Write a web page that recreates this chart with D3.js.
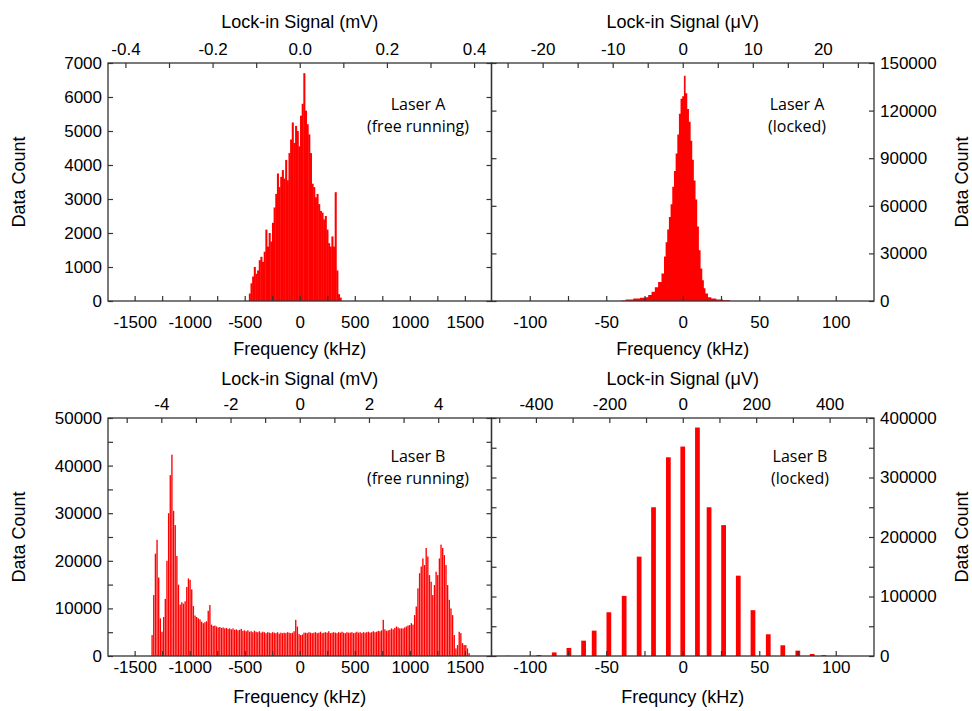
<!DOCTYPE html>
<html>
<head>
<meta charset="utf-8">
<script src="https://cdn.jsdelivr.net/npm/d3@7"></script>
<style>
  body { margin: 0; background: #fff; }
  svg text { font-family: 'Liberation Sans', Arial, sans-serif; fill: #000; }
  .note { font-family: 'Open Sans', 'Noto Sans', sans-serif; font-size: 16px; }
</style>
</head>
<body>
<div id="chart"></div>
<script>
// ---- data (counts in thousands) ----

// Laser A free running: 15 kHz bins, first bin centre at -455 kHz
const aFreeStart = -455;
const aFreeBin = 15;
const aFreeCounts = [0.22, 0.52, 0.72, 1.0, 0.8, 0.9, 1.2, 1.3, 1.15, 1.45,
  2.1, 1.6, 2.0, 1.75, 2.3, 2.75, 3.15, 3.75, 3.35, 3.65,
  3.85, 3.6, 4.15, 3.55, 4.35, 4.75, 5.25, 4.65, 5.15, 5.0,
  4.55, 5.45, 5.8, 6.7, 5.6, 5.2, 4.9, 4.35, 3.45, 3.35,
  3.05, 3.15, 2.85, 2.65, 2.6, 2.4, 2.5, 2.1, 1.7, 1.6,
  1.9, 1.6, 3.2, 0.9, 0.2, 0.1];

// Laser A locked: frequency (kHz) and count
const aLockedFreq = [-40, -34.6, -30, -25.9, -23.7, -21.5, -19.3, -17.2, -15, -12.8,
  -11.7, -10.7, -9.6, -8.5, -7.4, -6.3, -5.2, -4.1, -3.0, -2.0,
  -0.9, 0.2, 1.3, 2.4, 3.5, 4.6, 5.7, 6.7, 7.8, 8.9,
  10.0, 11.1, 12.2, 13.3, 14.3, 15.4, 17.6, 19.8, 24.1, 28.5, 33];
const aLockedCounts = [0.3, 1.0, 1.5, 2.0, 2.3, 3.8, 5.9, 8.6, 12, 17.4,
  28, 37, 45, 53, 61, 72, 82, 93, 105, 118,
  127.5, 129, 142, 131, 121, 113, 101, 89, 76, 64,
  47, 32, 20.5, 13, 8, 4.8, 2.3, 1.5, 1.0, 0.5, 0];

// Laser B free running: 15 kHz bins, first bin centre at -1340 kHz
const bFreeStart = -1340;
const bFreeBin = 15;
const bFreeCounts = [4.4, 12.8, 21.5, 24.4, 16.5, 7.9, 5.1, 8.2, 12.0, 20.0,
  30.0, 38.0, 42.3, 30.5, 27.5, 21.0, 15.0, 10.8, 11.3, 11.0,
  11.5, 14.5, 16.3, 16.0, 14.0, 10.5, 8.5, 8.2, 7.9, 7.7,
  7.2, 6.9, 7.1, 7.3, 9.5, 10.7, 6.6, 6.3, 6.4, 6.2,
  6.0, 6.1, 5.9, 6.0, 5.8, 5.9, 5.7, 5.8, 5.6, 5.8,
  5.5, 5.6, 5.4, 5.5, 5.7, 5.3, 5.4, 5.2, 5.4, 5.1,
  5.2, 5.0, 5.3, 5.1, 5.0, 5.2, 4.9, 5.1, 5.0, 4.8,
  5.0, 4.9, 4.8, 5.0, 4.9, 4.8, 5.0, 4.7, 4.9, 4.8,
  4.9, 4.8, 5.0, 4.9, 4.8, 4.9, 5.2, 7.6, 6.2, 4.6,
  4.4, 4.5, 4.9, 4.9, 4.8, 5.0, 4.9, 4.8, 4.9, 5.0,
  4.8, 4.9, 5.1, 4.8, 4.9, 5.0, 4.9, 5.2, 4.8, 4.9,
  5.0, 4.9, 4.8, 5.0, 4.9, 5.1, 4.9, 4.8, 5.0, 4.9,
  4.9, 5.0, 4.8, 4.9, 5.1, 4.9, 5.0, 4.8, 5.0, 4.9,
  5.0, 5.1, 4.9, 5.0, 5.2, 5.0, 5.1, 5.3, 5.2, 5.4,
  7.6, 5.6, 5.3, 5.4, 5.5, 5.8, 5.6, 5.9, 6.2, 6.0,
  5.8, 5.8, 5.8, 6.0, 6.2, 6.4, 6.5, 6.9, 6.6, 8.6,
  10.4, 14.2, 17.4, 18.8, 20.5, 19.1, 22.7, 20.9, 17.0, 15.6,
  12.8, 14.9, 17.7, 17.0, 20.5, 23.4, 22.7, 21.2, 19.1, 14.9,
  11.8, 10.0, 8.6, 4.4, 1.6, 2.3, 5.1, 4.8, 2.7, 2.3,
  2.3, 1.6, 0.6];

// Laser B locked: discrete bars
const bLockedFreq = [-114, -94, -84, -74.4, -64.8, -57.9, -48.3, -38.3, -28.5, -19.1,
  -9.4, 0, 9.6, 17.2, 26.7, 36.3, 45.9, 55.9, 65.4, 75.2, 84.6, 92.2, 101.8];
const bLockedCounts = [0.3, 1.7, 6, 13.5, 25.8, 42.6, 73.5, 101, 167, 250,
  334, 352, 384, 250, 220, 135, 77, 36.5, 18, 9, 3.4, 1.5, 0.5];

// tick labels
const freeFreqTicks = [-1500, -1000, -500, 0, 500, 1000, 1500];
const lockedFreqTicks = [-100, -50, 0, 50, 100];
const aFreeSignalTicks = [-0.4, -0.2, 0.0, 0.2, 0.4];
const aLockedSignalTicks = [-20, -10, 0, 10, 20];
const bFreeSignalTicks = [-4, -2, 0, 2, 4];
const bLockedSignalTicks = [-400, -200, 0, 200, 400];
const aFreeCountTicks = [0, 1000, 2000, 3000, 4000, 5000, 6000, 7000];
const aLockedCountTicks = [0, 30000, 60000, 90000, 120000, 150000];
const bFreeCountTicks = [0, 10000, 20000, 30000, 40000, 50000];
const bLockedCountTicks = [0, 100000, 200000, 300000, 400000];

const width = 972;
const height = 711;
const red = '#ff0000';
const frameColor = '#333';

const svg = d3
  .select('#chart')
  .append('svg')
  .attr('width', width)
  .attr('height', height);

// minor tick helper
const steps = (lo, hi, step) => d3.range(Math.round(lo / step), Math.round(hi / step) + 1).map(i => +(i * step).toFixed(6));

function panel(p) {
  const x = d3.scaleLinear().domain(p.freqDomain).range([p.x0, p.x1]);
  const xTop = d3.scaleLinear().domain(p.sigDomain).range([p.x0, p.x1]);
  const y = d3.scaleLinear().domain([0, p.yMax]).range([p.y1, p.y0]);
  const g = svg.append('g');

  p.draw(g, x, y);

  const inLabels = (list, fmt) => d => (list.some(v => Math.abs(v - d) < 1e-9) ? fmt(d) : '');

  // bottom axis, ticks pointing inward
  g.append('g')
    .attr('transform', `translate(0, ${p.y1})`)
    .call(d3.axisBottom(x)
      .tickValues(steps(p.freqDomain[0], p.freqDomain[1], p.freqMinor).filter(v => x(v) > p.x0 + 1 && x(v) < p.x1 - 1))
      .tickFormat(inLabels(p.freqTicks, d => String(d)))
      .tickSizeInner(-5).tickSizeOuter(0).tickPadding(p.lay.tickPad));

  // top axis (lock-in signal)
  g.append('g')
    .attr('transform', `translate(0, ${p.y0})`)
    .call(d3.axisTop(xTop)
      .tickValues(steps(p.sigDomain[0], p.sigDomain[1], p.sigMinor).filter(v => xTop(v) > p.x0 + 1 && xTop(v) < p.x1 - 1))
      .tickFormat(inLabels(p.sigTicks, p.sigFormat))
      .tickSizeInner(-5).tickSizeOuter(0).tickPadding(8));

  // labelled count axis
  const countAxis = p.side === 'left' ? d3.axisLeft(y) : d3.axisRight(y);
  g.append('g')
    .attr('transform', `translate(${p.side === 'left' ? p.x0 : p.x1}, 0)`)
    .call(countAxis
      .tickValues(steps(0, p.yMax, p.yMinor))
      .tickFormat(inLabels(p.yTicks, d => String(d)))
      .tickSizeInner(-5).tickSizeOuter(0).tickPadding(6));

  // mirrored count ticks on the opposite edge
  const mirror = p.side === 'left' ? d3.axisRight(y) : d3.axisLeft(y);
  g.append('g')
    .attr('transform', `translate(${p.side === 'left' ? p.x1 : p.x0}, 0)`)
    .call(mirror.tickValues(steps(0, p.yMax, p.yMinor)).tickFormat('').tickSizeInner(-5).tickSizeOuter(0));

  g.selectAll('.tick text').style('font-size', '17px');
  g.selectAll('.domain').remove();
  g.selectAll('.tick line').attr('stroke', frameColor).attr('stroke-width', 1.2);

  g.append('rect')
    .attr('x', p.x0).attr('y', p.y0)
    .attr('width', p.x1 - p.x0).attr('height', p.y1 - p.y0)
    .attr('fill', 'none').attr('stroke', frameColor).attr('stroke-width', 1.3);

  // titles
  const cx = (p.x0 + p.x1) / 2;
  g.append('text').attr('x', cx).attr('y', p.y0 - p.lay.sigTitle).attr('text-anchor', 'middle')
    .style('font-size', '18px').text(p.sigTitle);
  g.append('text').attr('x', cx).attr('y', p.y1 + p.lay.freqTitle).attr('text-anchor', 'middle')
    .style('font-size', '18px').text(p.freqTitle);
  const cy = (p.y0 + p.y1) / 2;
  const tx = p.side === 'left' ? 25 : 968;
  g.append('text').attr('transform', `translate(${tx}, ${cy}) rotate(-90)`).attr('text-anchor', 'middle')
    .style('font-size', '18px').text('Data Count');

  // laser note
  g.append('text').attr('class', 'note').attr('x', p.noteX).attr('y', p.y0 + p.lay.note1).attr('text-anchor', 'middle').text(p.note1);
  g.append('text').attr('class', 'note').attr('x', p.noteX).attr('y', p.y0 + p.lay.note2).attr('text-anchor', 'middle').text(p.note2);
}

function histBars(start, bin, counts, gap) {
  return (g, x, y) => {
    g.append('g')
      .selectAll('rect')
      .data(counts)
      .join('rect')
      .attr('x', (d, i) => x(start + i * bin - bin / 2))
      .attr('width', (d, i) => x(start + i * bin + bin / 2) - x(start + i * bin - bin / 2) - gap)
      .attr('y', d => y(d * 1000))
      .attr('height', d => y(0) - y(d * 1000))
      .attr('fill', red);
  };
}

const leftCol = { x0: 108, x1: 491.5 };
const rightCol = { x0: 491.5, x1: 874 };
const topRow = { y0: 63, y1: 301, lay: { tickPad: 15, freqTitle: 54, sigTitle: 35, note1: 47, note2: 69 } };
const bottomRow = { y0: 418, y1: 656, lay: { tickPad: 5, freqTitle: 47, sigTitle: 33, note1: 44, note2: 66 } };

panel({
  ...leftCol, ...topRow, side: 'left',
  freqDomain: [-1742, 1742], freqTicks: freeFreqTicks, freqMinor: 250,
  sigDomain: [-0.44, 0.44], sigTicks: aFreeSignalTicks, sigMinor: 0.1, sigFormat: d => d.toFixed(1),
  yMax: 7000, yTicks: aFreeCountTicks, yMinor: 1000,
  sigTitle: 'Lock-in Signal (mV)', freqTitle: 'Frequency (kHz)',
  note1: 'Laser A', note2: '(free running)', noteX: 418,
  draw: histBars(aFreeStart, aFreeBin, aFreeCounts, -0.4)
});

panel({
  ...rightCol, ...topRow, side: 'right',
  freqDomain: [-125, 125], freqTicks: lockedFreqTicks, freqMinor: 25,
  sigDomain: [-27.3, 27.3], sigTicks: aLockedSignalTicks, sigMinor: 5, sigFormat: d => String(d),
  yMax: 150000, yTicks: aLockedCountTicks, yMinor: 30000,
  sigTitle: 'Lock-in Signal (\u03bcV)', freqTitle: 'Frequency (kHz)',
  note1: 'Laser A', note2: '(locked)', noteX: 797,
  draw: (g, x, y) => {
    const area = d3.area()
      .x(d => x(d[0]))
      .y0(y(0))
      .y1(d => y(d[1] * 1000))
      .curve(d3.curveStep);
    g.append('path')
      .datum(d3.zip(aLockedFreq, aLockedCounts))
      .attr('d', area)
      .attr('fill', red);
  }
});

panel({
  ...leftCol, ...bottomRow, side: 'left',
  freqDomain: [-1742, 1742], freqTicks: freeFreqTicks, freqMinor: 250,
  sigDomain: [-5.54, 5.54], sigTicks: bFreeSignalTicks, sigMinor: 1, sigFormat: d => String(d),
  yMax: 50000, yTicks: bFreeCountTicks, yMinor: 5000,
  sigTitle: 'Lock-in Signal (mV)', freqTitle: 'Frequency (kHz)',
  note1: 'Laser B', note2: '(free running)', noteX: 418,
  draw: histBars(bFreeStart, bFreeBin, bFreeCounts, 0.3)
});

panel({
  ...rightCol, ...bottomRow, side: 'right',
  freqDomain: [-125, 125], freqTicks: lockedFreqTicks, freqMinor: 25,
  sigDomain: [-521, 521], sigTicks: bLockedSignalTicks, sigMinor: 100, sigFormat: d => String(d),
  yMax: 400000, yTicks: bLockedCountTicks, yMinor: 50000,
  sigTitle: 'Lock-in Signal (\u03bcV)', freqTitle: 'Frequncy (kHz)',
  note1: 'Laser B', note2: '(locked)', noteX: 800,
  draw: (g, x, y) => {
    const barW = 3.1; // kHz
    g.append('g')
      .selectAll('rect')
      .data(d3.zip(bLockedFreq, bLockedCounts))
      .join('rect')
      .attr('x', d => x(d[0] - barW / 2))
      .attr('width', d => x(d[0] + barW / 2) - x(d[0] - barW / 2))
      .attr('y', d => y(d[1] * 1000))
      .attr('height', d => y(0) - y(d[1] * 1000))
      .attr('fill', red);
  }
});
</script>
</body>
</html>
